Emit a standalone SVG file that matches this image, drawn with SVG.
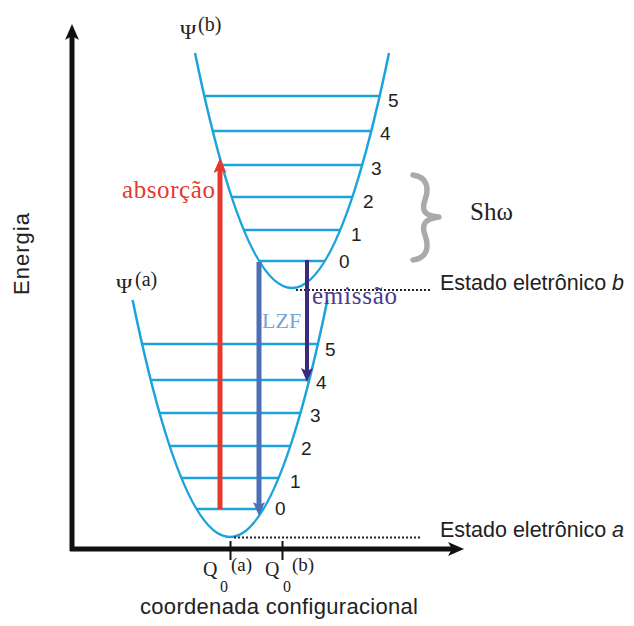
<svg xmlns="http://www.w3.org/2000/svg" width="634" height="626" viewBox="0 0 634 626">
<style>
.curve{fill:none;stroke:#1ca3dc;stroke-width:2.5}
.lvl{stroke:#1ca3dc;stroke-width:2.5}
.num{font-family:"Liberation Sans",Arial,sans-serif;font-size:19px;fill:#222}
.sans{font-family:"Liberation Sans",Arial,sans-serif;fill:#222}
.serif{font-family:"Liberation Serif","Times New Roman",serif}
.dot{stroke:#222;stroke-width:2;stroke-dasharray:2 2}
</style>
<defs>
<marker id="ahK" viewBox="0 0 16 14" refX="4" refY="7" markerWidth="16" markerHeight="14" markerUnits="userSpaceOnUse" orient="auto"><path d="M0,0 L16,7 L0,14 L4,7 z" fill="#111"/></marker>
<marker id="ahR" viewBox="0 0 15 13" refX="4" refY="6.5" markerWidth="15" markerHeight="13" markerUnits="userSpaceOnUse" orient="auto"><path d="M0,0 L15,6.5 L0,13 L3,6.5 z" fill="#e5392d"/></marker>
<marker id="ahB" viewBox="0 0 14 12" refX="4" refY="6" markerWidth="14" markerHeight="12" markerUnits="userSpaceOnUse" orient="auto"><path d="M0,0 L14,6 L0,12 L3,6 z" fill="#4d6fb6"/></marker>
<marker id="ahP" viewBox="0 0 14 12" refX="4" refY="6" markerWidth="14" markerHeight="12" markerUnits="userSpaceOnUse" orient="auto"><path d="M0,0 L14,6 L0,12 L3,6 z" fill="#3a2b7e"/></marker>
</defs>
<rect width="634" height="626" fill="#fff"/>

<g id="axes">
<line x1="72" y1="551" x2="72" y2="36" stroke="#111" stroke-width="5" marker-end="url(#ahK)"/>
<line x1="70" y1="549" x2="452" y2="549" stroke="#111" stroke-width="5" marker-end="url(#ahK)"/>
<line x1="230.5" y1="541" x2="230.5" y2="560" stroke="#111" stroke-width="2"/>
<line x1="282.5" y1="541" x2="282.5" y2="560" stroke="#111" stroke-width="2"/>
<text class="sans" font-size="22" transform="translate(29,254) rotate(-90)" text-anchor="middle" textLength="82">Energia</text>
<text class="sans" font-size="22" x="140" y="614" textLength="278">coordenada configuracional</text>
<g class="serif" fill="#222">
<text x="203" y="576" font-size="20">Q</text>
<text x="220" y="592" font-size="16">0</text>
<text x="231" y="571" font-size="19">(a)</text>
<text x="265" y="576" font-size="20">Q</text>
<text x="283" y="592" font-size="16">0</text>
<text x="292" y="571" font-size="19">(b)</text>
</g>
</g>

<g id="state-b">
<path class="curve" d="M195,53 Q292,523 389,53"/>
<line class="lvl" x1="204.4" y1="96" x2="379.6" y2="96"/>
<line class="lvl" x1="212.8" y1="131" x2="371.2" y2="131"/>
<line class="lvl" x1="221.9" y1="165" x2="362.1" y2="165"/>
<line class="lvl" x1="231.7" y1="197" x2="352.3" y2="197"/>
<line class="lvl" x1="243.8" y1="230" x2="340.2" y2="230"/>
<line class="lvl" x1="259.1" y1="261" x2="324.9" y2="261"/>
<text class="num" x="388" y="107">5</text>
<text class="num" x="380" y="140">4</text>
<text class="num" x="371" y="175">3</text>
<text class="num" x="363" y="208">2</text>
<text class="num" x="351" y="241">1</text>
<text class="num" x="339" y="268">0</text>
<text class="serif" fill="#222" x="180" y="39" font-size="22">Ψ</text>
<text class="serif" fill="#222" x="198" y="31" font-size="20">(b)</text>
</g>

<g id="state-a">
<path class="curve" d="M132.6,300 Q230,774 327.4,300"/>
<line class="lvl" x1="142.1" y1="344" x2="317.9" y2="344"/>
<line class="lvl" x1="150.8" y1="380" x2="309.2" y2="380"/>
<line class="lvl" x1="159.6" y1="413" x2="300.4" y2="413"/>
<line class="lvl" x1="169.7" y1="446" x2="290.3" y2="446"/>
<line class="lvl" x1="181.4" y1="478" x2="278.6" y2="478"/>
<line class="lvl" x1="196.5" y1="509" x2="263.5" y2="509"/>
<text class="num" x="325" y="356">5</text>
<text class="num" x="316" y="389">4</text>
<text class="num" x="310" y="422">3</text>
<text class="num" x="301" y="455">2</text>
<text class="num" x="290" y="488">1</text>
<text class="num" x="275" y="515">0</text>
<text class="serif" fill="#222" x="116" y="293" font-size="22">Ψ</text>
<text class="serif" fill="#222" x="135" y="286" font-size="20">(a)</text>
</g>

<g id="levels-labels">
<line class="dot" x1="296" y1="290" x2="430" y2="290"/>
<line class="dot" x1="234" y1="537.5" x2="420" y2="537.5"/>
<text class="sans" font-size="21.5" x="440" y="290">Estado eletrônico <tspan font-style="italic">b</tspan></text>
<text class="sans" font-size="21.5" x="440" y="537">Estado eletrônico <tspan font-style="italic">a</tspan></text>
<path d="M413,175 C428,177 429,189 425,200 C421,211 425,216 439,217 C425,219 421,224 425,235 C429,246 428,258 413,260" fill="none" stroke="#aaaaaa" stroke-width="5.5" stroke-linecap="round" stroke-linejoin="round"/>
<text class="serif" fill="#222" x="470" y="220" font-size="25">Shω</text>
</g>

<g id="connectors">
<line x1="220" y1="509" x2="220" y2="169" stroke="#e5392d" stroke-width="5" marker-end="url(#ahR)"/>
<line x1="259" y1="262" x2="259" y2="506" stroke="#4d6fb6" stroke-width="5" marker-end="url(#ahB)"/>
<line x1="307" y1="260" x2="307" y2="372" stroke="#3a2b7e" stroke-width="4" marker-end="url(#ahP)"/>
<text class="serif" fill="#e5392d" x="122" y="198" font-size="25" textLength="93">absorção</text>
<text class="serif" fill="#7aa3d8" x="262" y="328" font-size="22">LZF</text>
<text class="serif" fill="#4b3a8c" x="312" y="304" font-size="25" textLength="85">emissão</text>
</g>
</svg>
